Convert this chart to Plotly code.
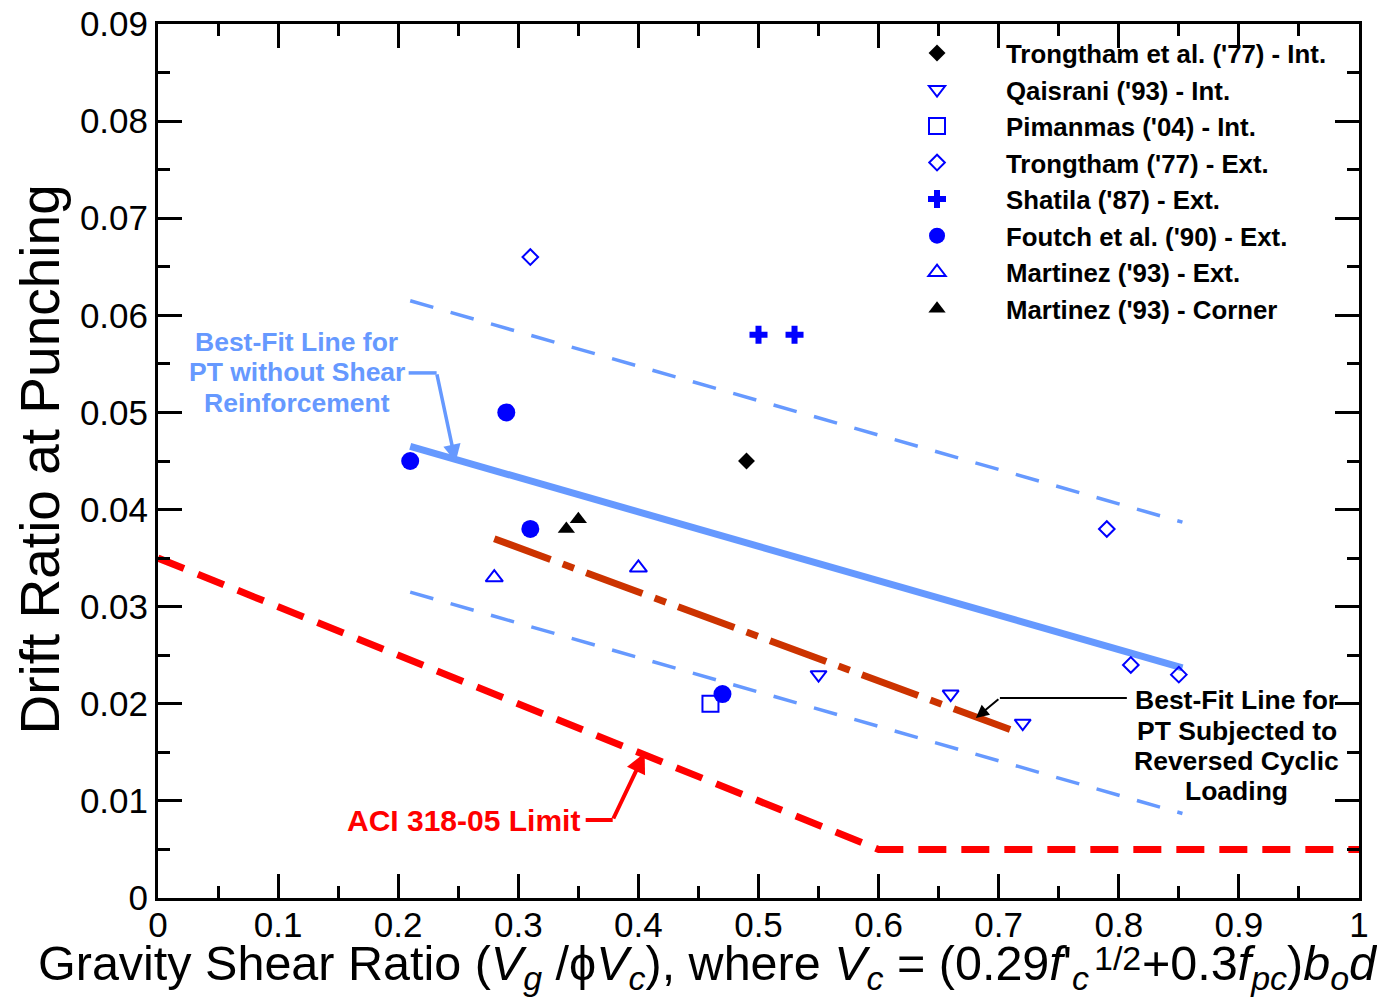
import plotly.graph_objects as go

# ---------------- data ----------------
trongtham_int_x = [0.49]
trongtham_int_y = [0.045]
qaisrani_x = [0.55, 0.66, 0.72]
qaisrani_y = [0.023, 0.021, 0.018]
pimanmas_x = [0.46]
pimanmas_y = [0.020]
trongtham_ext_x = [0.31, 0.79, 0.81, 0.85]
trongtham_ext_y = [0.066, 0.038, 0.024, 0.023]
shatila_x = [0.50, 0.53]
shatila_y = [0.058, 0.058]
foutch_x = [0.21, 0.29, 0.31, 0.47]
foutch_y = [0.045, 0.050, 0.038, 0.021]
martinez_ext_x = [0.28, 0.40]
martinez_ext_y = [0.033, 0.034]
martinez_corner_x = [0.34, 0.35]
martinez_corner_y = [0.038, 0.039]

bestfit_x = [0.21, 0.853]
bestfit_y = [0.0465, 0.0237]
upper_y = [0.0615, 0.0387]
lower_y = [0.0315, 0.0087]
cyclic_x = [0.28, 0.717]
cyclic_y = [0.037, 0.017]
aci_x = [0.0, 0.6, 1.0]
aci_y = [0.035, 0.005, 0.005]

x_ticks = [0, 0.1, 0.2, 0.3, 0.4, 0.5, 0.6, 0.7, 0.8, 0.9, 1.0]
x_ticklabels = ["0", "0.1", "0.2", "0.3", "0.4", "0.5", "0.6", "0.7", "0.8", "0.9", "1"]
y_ticks = [0, 0.01, 0.02, 0.03, 0.04, 0.05, 0.06, 0.07, 0.08, 0.09]
y_ticklabels = ["0", "0.01", "0.02", "0.03", "0.04", "0.05", "0.06", "0.07", "0.08", "0.09"]

FONT = "Arial, Liberation Sans, sans-serif"
BLUE = "#0000FF"
LBLUE = "#6699FF"

fig = go.Figure()

# lines
fig.add_trace(go.Scatter(x=aci_x, y=aci_y, mode="lines", showlegend=False,
                         line=dict(color="#FF0000", width=7, dash="28px,15px")))
fig.add_trace(go.Scatter(x=bestfit_x, y=upper_y, mode="lines", showlegend=False,
                         line=dict(color=LBLUE, width=3.5, dash="24px,18px")))
fig.add_trace(go.Scatter(x=bestfit_x, y=lower_y, mode="lines", showlegend=False,
                         line=dict(color=LBLUE, width=3.5, dash="24px,18px")))
fig.add_trace(go.Scatter(x=bestfit_x, y=bestfit_y, mode="lines", showlegend=False,
                         line=dict(color=LBLUE, width=7)))
fig.add_trace(go.Scatter(x=cyclic_x, y=cyclic_y, mode="lines", showlegend=False,
                         line=dict(color="#CC3300", width=7, dash="60px,13px,12px,13px")))

# markers
def pts(x, y, name, symbol, color, size, lw=2):
    fig.add_trace(go.Scatter(x=x, y=y, mode="markers", name=name,
                             marker=dict(symbol=symbol, color=color, size=size,
                                         line=dict(color=color, width=lw))))

pts(trongtham_int_x, trongtham_int_y, "Trongtham et al. ('77) - Int.", "diamond", "black", 13, 0)
pts(qaisrani_x, qaisrani_y, "Qaisrani ('93) - Int.", "triangle-down-open", BLUE, 14)
pts(pimanmas_x, pimanmas_y, "Pimanmas ('04) - Int.", "square-open", BLUE, 16)
pts(trongtham_ext_x, trongtham_ext_y, "Trongtham ('77) - Ext.", "diamond-open", BLUE, 12)
pts(shatila_x, shatila_y, "Shatila ('87) - Ext.", "cross", BLUE, 15, 0)
pts(foutch_x, foutch_y, "Foutch et al. ('90) - Ext.", "circle", BLUE, 18, 0)
pts(martinez_ext_x, martinez_ext_y, "Martinez ('93) - Ext.", "triangle-up-open", BLUE, 15)
pts(martinez_corner_x, martinez_corner_y, "Martinez ('93) - Corner", "triangle-up", "black", 15, 0)

axis_common = dict(showline=True, linewidth=3, linecolor="black", mirror="ticks",
                   ticks="inside", ticklen=24, tickwidth=3, tickcolor="black",
                   showgrid=False, zeroline=False, automargin=False,
                   ticklabeloverflow="allow",
                   tickfont=dict(family=FONT, size=35, color="black"))

fig.update_xaxes(range=[0, 1], tickmode="array", tickvals=x_ticks, ticktext=x_ticklabels,
                 minor=dict(dtick=0.05, tick0=0, ticks="inside", ticklen=12, tickwidth=3, tickcolor="black"),
                 ticklabelstandoff=-6, **axis_common)
fig.update_yaxes(range=[0, 0.09], tickmode="array", tickvals=y_ticks, ticktext=y_ticklabels,
                 minor=dict(dtick=0.005, tick0=0, ticks="inside", ticklen=12, tickwidth=3, tickcolor="black"),
                 ticklabelstandoff=0, **axis_common)

def txt(x, y, text, size, color):
    return dict(x=x, y=y, text=text, showarrow=False, xanchor="center", yanchor="middle",
                font=dict(family=FONT, size=size, color=color, weight="bold"))

TITLE_FONT = dict(family=FONT, size=48.5, color="black")

annotations = [
    # axis titles
    dict(xref="paper", yref="paper", x=-0.098, y=0.502, textangle=-90,
         text="Drift Ratio at Punching", showarrow=False,
         font=dict(family=FONT, size=55, color="black"), xanchor="center", yanchor="middle"),
    dict(xref="paper", yref="paper", x=0.7772, y=-0.1150,
         text="Gravity Shear Ratio (<i>V</i><sub><i>g</i></sub> /ϕ<i>V</i><sub><i>c</i></sub>), where "
              "<i>V</i><sub><i>c</i></sub> = (0.29<i>f</i>'<sub><i>c</i></sub>",
         showarrow=False, font=TITLE_FONT, xanchor="right", yanchor="bottom"),
    dict(xref="paper", yref="paper", x=0.7780, y=-0.0690, text="1/2",
         showarrow=False, font=dict(family=FONT, size=34, color="black"),
         xanchor="left", yanchor="middle"),
    dict(xref="paper", yref="paper", x=0.8180, y=-0.1150,
         text="+0.3<i>f</i><sub><i>pc</i></sub>)<i>b</i><sub><i>o</i></sub><i>d</i>",
         showarrow=False, font=TITLE_FONT, xanchor="left", yanchor="bottom"),
    # blue label
    txt(0.1157, 0.05725, "Best-Fit Line for", 26.5, LBLUE),
    txt(0.1157, 0.05417, "PT without Shear", 26.5, LBLUE),
    txt(0.1157, 0.05098, "Reinforcement", 26.5, LBLUE),
    # black label
    txt(0.8984, 0.02039, "Best-Fit Line for", 26.5, "black"),
    txt(0.8984, 0.01720, "PT Subjected to", 26.5, "black"),
    txt(0.8984, 0.01411, "Reversed Cyclic", 26.5, "black"),
    txt(0.8984, 0.01102, "Loading", 26.5, "black"),
    # red label
    txt(0.254, 0.00803, "ACI 318-05 Limit", 30, "#FF0000"),
    # arrows
    dict(x=0.2478, y=0.0449, ax=-19, ay=-89, text="", showarrow=True,
         arrowhead=2, arrowsize=1, arrowwidth=3.5, arrowcolor=LBLUE),
    dict(x=0.681, y=0.01854, ax=24, ay=-20, text="", showarrow=True,
         arrowhead=2, arrowsize=1.3, arrowwidth=2, arrowcolor="black"),
    dict(x=0.4052, y=0.01493, ax=-32, ay=67, text="", showarrow=True,
         arrowhead=2, arrowsize=1, arrowwidth=4, arrowcolor="#FF0000"),
]

shapes = [
    dict(type="line", x0=0.2087, x1=0.2320, y0=0.05407, y1=0.05407,
         line=dict(color=LBLUE, width=3.5)),
    dict(type="line", x0=0.701, x1=0.8067, y0=0.0206, y1=0.0206,
         line=dict(color="black", width=2)),
    dict(type="line", x0=0.3561, x1=0.3786, y0=0.00803, y1=0.00803,
         line=dict(color="#FF0000", width=4)),
]

fig.update_layout(
    width=1369, height=989,
    margin=dict(l=150, r=18, t=16, b=99),
    paper_bgcolor="white", plot_bgcolor="white",
    font=dict(family=FONT, color="black"),
    annotations=annotations, shapes=shapes,
    legend=dict(x=0.5912, y=0.9935, xanchor="left", yanchor="top",
                itemwidth=128, bgcolor="rgba(0,0,0,0)", borderwidth=0,
                font=dict(family=FONT, size=25.8, color="black", weight="bold")),
)

fig.write_html("out.html")
